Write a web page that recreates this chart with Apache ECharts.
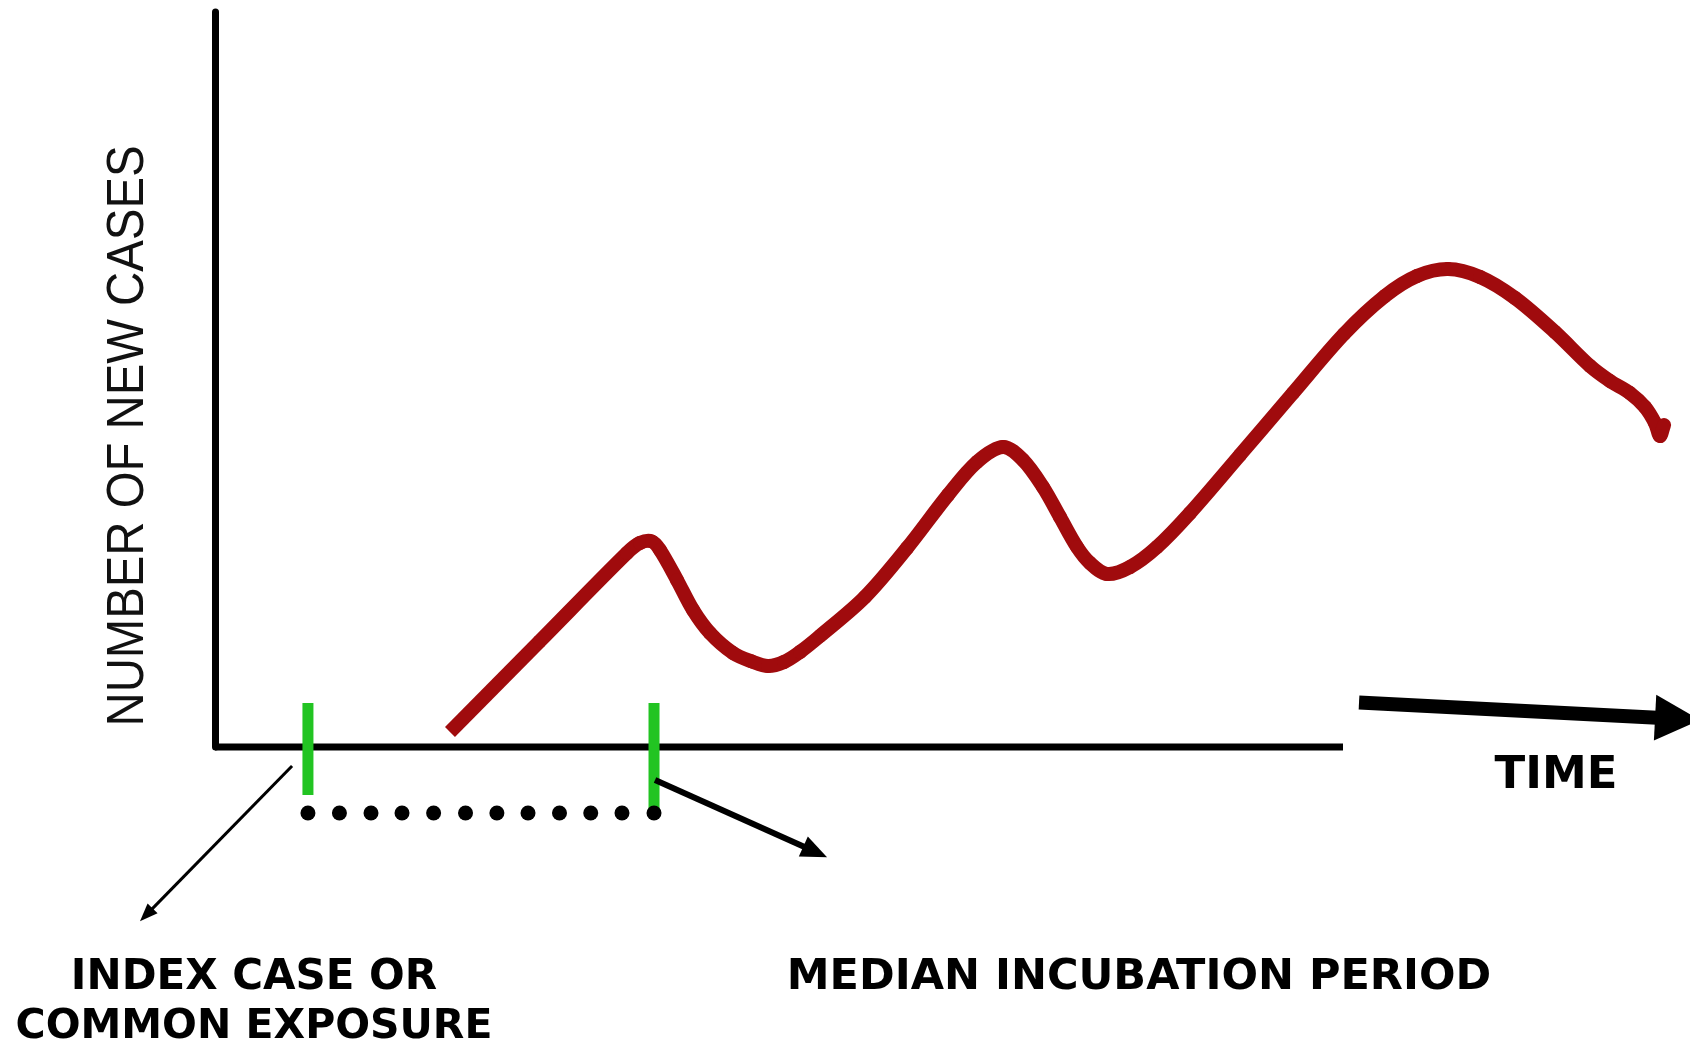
<!DOCTYPE html>
<html>
<head>
<meta charset="utf-8">
<script src="https://cdn.jsdelivr.net/npm/echarts@6/dist/echarts.min.js"></script>
<style>
html,body{margin:0;padding:0;background:#fff;}
#chart{width:1690px;height:1043px;}
</style>
</head>
<body>
<div id="chart"></div>
<script>
// ---- data (time units on x, new cases on y) ----
const curveX = [20.83, 28.81, 36.52, 37.68, 38.74, 39.45, 40.96, 42.38, 43.88, 45.92,
  47.61, 49.02, 50.44, 51.86, 53.63, 57.62, 61.35, 64.98, 67.55, 69.86,
  71.63, 73.40, 74.91, 76.42, 77.57,
  79.08, 81.12, 83.51, 86.44, 90.87, 95.57, 100.09, 103.72, 106.56, 109.31,
  112.15, 115.25, 118.79, 121.90, 123.67, 125.44, 126.77, 127.66, 128.10, 128.46];
const curveY = [2.04, 14.42, 26.39, 27.76, 27.96, 26.80, 22.72, 18.64, 15.51, 12.79,
  11.63, 11.02, 11.56, 12.93, 15.10, 20.41, 27.07, 34.29, 38.78, 40.82,
  39.05, 35.37, 31.29, 27.21, 25.03,
  23.54, 24.49, 27.21, 31.84, 39.73, 48.16, 56.19, 61.36, 64.08, 65.03,
  63.95, 61.09, 56.46, 51.84, 49.80, 48.16, 46.26, 44.08, 42.31, 43.81];

// time axis baseline (start, end)
const baseX = [0, 100];
const baseY = [0, 0];

// green markers: index case / exposure and end of median incubation period
const markerX = [8.24, 38.92];
const markerTop = [5.99, 5.99];
const markerBottom = [-6.53, -8.98];

// dotted span of the median incubation period
const dotX = [8.24, 11.03, 13.83, 16.58, 19.38, 22.21, 24.99, 27.75, 30.54, 33.31, 36.08, 38.92];
const dotY = [-8.98, -8.98, -8.98, -8.98, -8.98, -8.98, -8.98, -8.98, -8.98, -8.98, -8.98, -8.98];

// arrows: index case, median incubation period, time
const arrowFromX = [6.83, 39.01, 101.42];
const arrowFromY = [-2.59, -4.50, 6.06];
const arrowToX = [-6.65, 54.26, 131.65];
const arrowToY = [-23.71, -14.99, 3.68];

// axis extent / labels
const xRange = [0, 131];
const yRange = [0, 100];
const yLabel = 'NUMBER OF NEW CASES';
const xLabel = 'TIME';
const noteIndex = ['INDEX CASE OR', 'COMMON EXPOSURE'];
const noteMedian = 'MEDIAN INCUBATION PERIOD';

// ---- styles ----
const RED = '#a00b0d';
const GREEN = '#22c422';
const ARROW_STYLE = [
  {w: 3, len: 18, hw: 14},
  {w: 6, len: 26, hw: 22},
  {w: 14, len: 45, hw: 46}
];

const chart = echarts.init(document.getElementById('chart'), null, {renderer: 'canvas'});

const curveData = curveX.map((x, i) => [x, curveY[i]]);
const baseData = baseX.map((x, i) => [x, baseY[i]]);
const markerData = markerX.map((x, i) => [x, markerTop[i], markerBottom[i]]);
const dotData = dotX.map((x, i) => [x, dotY[i]]);
const arrowData = arrowFromX.map((x, i) => [x, arrowFromY[i], arrowToX[i], arrowToY[i]]);

function renderCurve(params, api) {
  if (params.dataIndex !== 0) return null;
  const pts = curveData.map(d => api.coord(d));
  const n = pts.length;
  const dist = (a, b) => Math.hypot(b[0] - a[0], b[1] - a[1]);
  const children = [];
  for (let i = 0; i < n - 1; i++) {
    const p0 = pts[Math.max(i - 1, 0)], p1 = pts[i], p2 = pts[i + 1], p3 = pts[Math.min(i + 2, n - 1)];
    const d01 = dist(p0, p1), d12 = dist(p1, p2), d23 = dist(p2, p3);
    const k1 = d12 / 3 / ((d01 + d12) || 1);
    const k2 = d12 / 3 / ((d12 + d23) || 1);
    children.push({
      type: 'bezierCurve',
      shape: {
        x1: p1[0], y1: p1[1], x2: p2[0], y2: p2[1],
        cpx1: p1[0] + (p2[0] - p0[0]) * k1, cpy1: p1[1] + (p2[1] - p0[1]) * k1,
        cpx2: p2[0] - (p3[0] - p1[0]) * k2, cpy2: p2[1] - (p3[1] - p1[1]) * k2
      },
      style: {stroke: RED, lineWidth: 14, fill: 'none', lineCap: i === 0 ? 'butt' : 'round'}
    });
  }
  return {type: 'group', children};
}

function renderArrow(params, api) {
  const st = ARROW_STYLE[params.dataIndex];
  const p1 = api.coord([api.value(0), api.value(1)]);
  const p2 = api.coord([api.value(2), api.value(3)]);
  const dx = p2[0] - p1[0], dy = p2[1] - p1[1];
  const L = Math.hypot(dx, dy);
  const ux = dx / L, uy = dy / L;
  const bx = p2[0] - ux * st.len, by = p2[1] - uy * st.len;
  const nx = -uy, ny = ux;
  return {
    type: 'group',
    children: [
      {type: 'line', shape: {x1: p1[0], y1: p1[1], x2: bx + ux * 2, y2: by + uy * 2},
       style: {stroke: '#000', lineWidth: st.w, lineCap: 'butt'}},
      {type: 'polygon', shape: {points: [[p2[0], p2[1]], [bx + nx * st.hw / 2, by + ny * st.hw / 2], [bx - nx * st.hw / 2, by - ny * st.hw / 2]]},
       style: {fill: '#000'}}
    ]
  };
}

function renderMarker(params, api) {
  const top = api.coord([api.value(0), api.value(1)]);
  const bot = api.coord([api.value(0), api.value(2)]);
  return {
    type: 'line',
    shape: {x1: top[0], y1: top[1], x2: bot[0], y2: bot[1]},
    style: {stroke: GREEN, lineWidth: 11}
  };
}

const boldFont = 'bold 42px "DejaVu Sans"';
const centered = {textAlign: 'center', textVerticalAlign: 'middle', align: 'center', verticalAlign: 'middle'};

const option = {
  backgroundColor: '#ffffff',
  animation: false,
  grid: {left: 215, width: 1477.68, top: 12, bottom: 296, containLabel: false, outerBoundsMode: 'none'},
  xAxis: {
    type: 'value', min: xRange[0], max: xRange[1],
    axisLine: {show: false},
    axisTick: {show: false}, axisLabel: {show: false}, splitLine: {show: false}
  },
  yAxis: {
    type: 'value', min: yRange[0], max: yRange[1],
    axisLine: {show: true, lineStyle: {color: '#000', width: 7}},
    axisTick: {show: false}, axisLabel: {show: false}, splitLine: {show: false}
  },
  graphic: [
    {type: 'text', x: 129, y: 436, rotation: Math.PI / 2, scaleX: 0.91, silent: true,
     style: Object.assign({text: yLabel, font: '52px "Liberation Sans"', fill: '#111'}, centered)},
    {type: 'text', x: 1556, y: 776, silent: true,
     style: Object.assign({text: xLabel, font: 'bold 45px "DejaVu Sans"', fill: '#000'}, centered)},
    {type: 'text', x: 254, y: 978, silent: true,
     style: Object.assign({text: noteIndex[0], font: boldFont, fill: '#000'}, centered)},
    {type: 'text', x: 254, y: 1027, silent: true,
     style: Object.assign({text: noteIndex[1], font: 'bold 41px "DejaVu Sans"', fill: '#000'}, centered)},
    {type: 'text', x: 1139, y: 978, silent: true,
     style: Object.assign({text: noteMedian, font: 'bold 43px "DejaVu Sans"', fill: '#000'}, centered)}
  ],
  series: [
    {
      name: 'Time axis', type: 'line', data: baseData, clip: false, showSymbol: false, symbol: 'none', silent: true, z: 1,
      lineStyle: {color: '#000', width: 7, cap: 'butt'}
    },
    {
      name: 'New cases', type: 'custom', data: curveData, renderItem: renderCurve, clip: false, silent: true, z: 3,
      encode: {x: 0, y: 1}
    },
    {
      name: 'Markers', type: 'custom', data: markerData, renderItem: renderMarker, clip: false, silent: true, z: 4,
      encode: {x: 0, y: [1, 2]}
    },
    {
      name: 'Incubation span', type: 'scatter', data: dotData, symbol: 'circle', symbolSize: 15, clip: false, silent: true, z: 5,
      itemStyle: {color: '#000', opacity: 1}
    },
    {
      name: 'Arrows', type: 'custom', data: arrowData, renderItem: renderArrow, clip: false, silent: true, z: 5,
      encode: {x: [0, 2], y: [1, 3]}
    }
  ]
};
chart.setOption(option);
</script>
</body>
</html>
